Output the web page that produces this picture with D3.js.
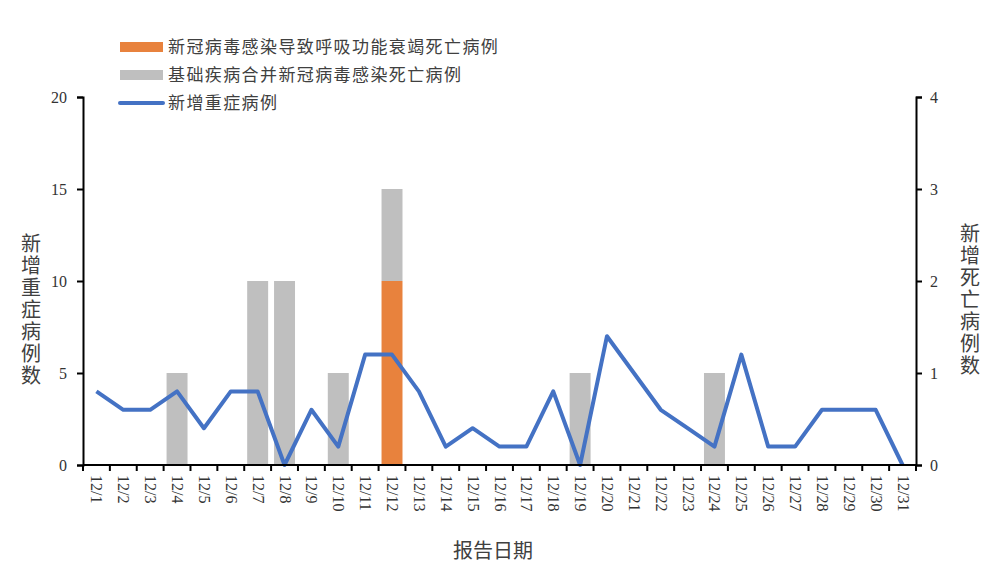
<!DOCTYPE html>
<html>
<head>
<meta charset="utf-8">
<script src="https://cdn.jsdelivr.net/npm/d3@7"></script>
<style>
  body { margin: 0; background: #fff; }
  .cjk { font-family: "Noto Sans CJK SC", sans-serif; fill: #404040; }
  .num { font-family: "Liberation Serif", serif; fill: #333; }
</style>
</head>
<body>
<script>
const dates = ['12/1','12/2','12/3','12/4','12/5','12/6','12/7','12/8','12/9','12/10',
  '12/11','12/12','12/13','12/14','12/15','12/16','12/17','12/18','12/19','12/20',
  '12/21','12/22','12/23','12/24','12/25','12/26','12/27','12/28','12/29','12/30','12/31'];
// deaths from respiratory failure (right axis)
const respDeaths = [0,0,0,0,0,0,0,0,0,0, 0,2,0,0,0,0,0,0,0,0, 0,0,0,0,0,0,0,0,0,0,0];
// deaths with underlying disease (right axis)
const otherDeaths = [0,0,0,1,0,0,2,2,0,1, 0,1,0,0,0,0,0,0,1,0, 0,0,0,1,0,0,0,0,0,0,0];
// new severe cases (left axis)
const severe = [4,3,3,4,2,4,4,0,3,1, 6,6,4,1,2,1,1,4,0,7, 5,3,2,1,6,1,1,3,3,3,0];
const leftTicks = [0,5,10,15,20];
const rightTicks = [0,1,2,3,4];
const legendNames = ['新冠病毒感染导致呼吸功能衰竭死亡病例', '基础疾病合并新冠病毒感染死亡病例', '新增重症病例'];
const colors = ['#E8823D', '#BFBFBF', '#4472C4'];

const width = 1000, height = 587;
const margin = {left: 83, right: 84, top: 97, bottom: 122};

const svg = d3.select('body').append('svg')
  .attr('width', width)
  .attr('height', height);

const x = d3.scaleBand().domain(dates)
  .range([margin.left, width - margin.right])
  .paddingInner(0.22).paddingOuter(0.11);
const yL = d3.scaleLinear().domain([0, 20]).range([height - margin.bottom, margin.top]);
const yR = d3.scaleLinear().domain([0, 4]).range([height - margin.bottom, margin.top]);

// stacked bars
const stackData = dates.map((d, i) => ({date: d, resp: respDeaths[i], other: otherDeaths[i]}));
const series = d3.stack().keys(['resp', 'other'])(stackData);
svg.append('g').selectAll('g')
  .data(series)
  .enter().append('g')
    .attr('fill', (d, i) => colors[i])
  .selectAll('rect')
  .data(d => d)
  .enter().append('rect')
    .attr('x', d => x(d.data.date))
    .attr('width', x.bandwidth())
    .attr('y', d => yR(d[1]))
    .attr('height', d => yR(d[0]) - yR(d[1]));

// line
const line = d3.line()
  .x((d, i) => x(dates[i]) + x.bandwidth() / 2)
  .y(d => yL(d));
svg.append('path')
  .datum(severe)
  .attr('d', line)
  .attr('fill', 'none')
  .attr('stroke', colors[2])
  .attr('stroke-width', 4)
  .attr('stroke-linejoin', 'round');

// axes
const gL = svg.append('g')
  .attr('transform', `translate(${margin.left},0)`)
  .call(d3.axisLeft(yL).tickValues(leftTicks).tickFormat(d3.format('d')).tickSizeOuter(0).tickSize(6).tickPadding(10));
const gR = svg.append('g')
  .attr('transform', `translate(${width - margin.right},0)`)
  .call(d3.axisRight(yR).tickValues(rightTicks).tickFormat(d3.format('d')).tickSizeOuter(0).tickSize(6).tickPadding(8));
[gL, gR].forEach(g => {
  g.select('.domain').attr('stroke', '#000').attr('stroke-width', 2);
  g.selectAll('.tick line').attr('stroke', '#000').attr('stroke-width', 2);
  g.selectAll('.tick text').attr('class', 'num').style('font-size', '16px');
});

// x axis, ticks sit between the days
const baseY = height - margin.bottom;
const gX = svg.append('g');
gX.append('line')
  .attr('x1', margin.left).attr('x2', width - margin.right)
  .attr('y1', baseY).attr('y2', baseY)
  .attr('stroke', '#000').attr('stroke-width', 2);
const span = (width - margin.right - margin.left) / dates.length;
gX.selectAll('.xt')
  .data(d3.range(dates.length + 1))
  .enter().append('line')
    .attr('x1', i => margin.left + i * span)
    .attr('x2', i => margin.left + i * span)
    .attr('y1', baseY).attr('y2', baseY + 6)
    .attr('stroke', '#000').attr('stroke-width', 2);
gX.selectAll('.xl')
  .data(dates)
  .enter().append('text')
    .attr('class', 'num')
    .attr('transform', d => `translate(${x(d) + x.bandwidth() / 2 - 5},${baseY + 10}) rotate(90)`)
    .attr('text-anchor', 'start')
    .style('font-size', '16px')
    .style('fill', '#333')
    .text(d => d);

// axis titles, written top to bottom
const vtext = (str, cx, y0) => {
  svg.append('text')
    .attr('class', 'cjk')
    .attr('x', cx).attr('y', y0)
    .style('font-size', '20px')
    .style('writing-mode', 'vertical-rl')
    .style('letter-spacing', '2px')
    .text(str);
};
vtext('新增重症病例数', 31, 233);
vtext('新增死亡病例数', 970, 223);

svg.append('text')
  .attr('class', 'cjk')
  .attr('x', 493).attr('y', 558)
  .attr('text-anchor', 'middle')
  .style('font-size', '20px')
  .text('报告日期');

// legend
const legend = svg.append('g').attr('transform', 'translate(120,47)');
legendNames.forEach((name, i) => {
  const g = legend.append('g').attr('transform', `translate(0,${i * 28})`);
  if (i < 2) {
    g.append('rect').attr('x', 0).attr('y', -5).attr('width', 43).attr('height', 10).attr('fill', colors[i]);
  } else {
    g.append('line').attr('x1', 0).attr('x2', 43).attr('y1', 0).attr('y2', 0)
      .attr('stroke', colors[i]).attr('stroke-width', 4).attr('stroke-linecap', 'round');
  }
  g.append('text')
    .attr('class', 'cjk')
    .attr('x', 48).attr('y', 6)
    .style('font-size', '17px')
    .style('letter-spacing', '1.4px')
    .text(name);
});
</script>
</body>
</html>
